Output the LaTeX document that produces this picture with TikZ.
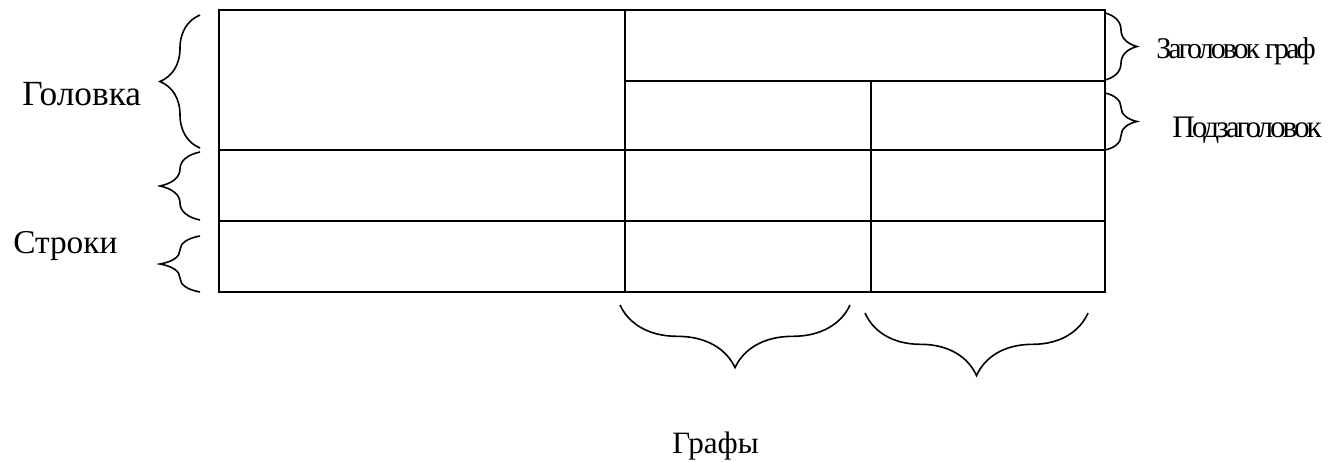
\documentclass[tikz,border=0pt]{standalone}
\usepackage{fontspec}
\setmainfont{Liberation Serif}
\usetikzlibrary{decorations.pathreplacing}
\begin{document}
\begin{tikzpicture}[x=0.75pt,y=-0.75pt,
  lbl/.style={font=\fontsize{#1}{#1}\selectfont, inner sep=0pt, anchor=base west},
  tight/.style={execute at begin node=\addfontfeatures{LetterSpace=#1}},
  grid/.style={line width=1.7pt},
  brc/.style={line width=1.2pt, decorate, decoration={brace, amplitude=#1}}]
  \useasboundingbox (0,0) rectangle (1330,461);

  % table
  \draw[grid] (219,10) rectangle (1105,292);
  \draw[grid] (625,10)  -- (625,292);
  \draw[grid] (625,81)  -- (1105,81);
  \draw[grid] (871,81)  -- (871,292);
  \draw[grid] (219,150) -- (1105,150);
  \draw[grid] (219,221) -- (1105,221);

  % labels
  \node[lbl=26.5]           (head) at (22,105)   {Головка};
  \node[lbl=25]             (rows) at (13,253)   {Строки};
  \node[lbl=23.3]           (cols) at (672,453)  {Графы};
  \node[lbl=22.5, tight=-10] (ttl) at (1156,58)  {Заголовок граф};
  \node[lbl=23.5, tight=-10] (sub) at (1172,137) {Подзаголовок};

  % braces
  \draw[brc=30pt] (200,148) -- (200,15);
  \draw[brc=30pt] (200,220) -- (200,152);
  \draw[brc=30pt] (200,292) -- (200,236);
  \draw[brc=24pt] (1105,13) -- (1105,80);
  \draw[brc=24pt] (1105,93) -- (1105,150);
  \draw[brc=47pt] (850,305) -- (620,305);
  \draw[brc=47pt] (1088,313) -- (865,313);
\end{tikzpicture}
\end{document}
